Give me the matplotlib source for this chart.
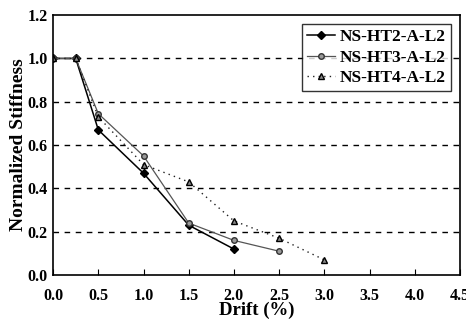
import matplotlib.pyplot as plt
import numpy as np

# drift values (%) and normalized stiffness for each specimen
drift_ht2 = [0.0, 0.25, 0.5, 1.0, 1.5, 2.0]
stiff_ht2 = [1.0, 1.0, 0.67, 0.47, 0.23, 0.12]

drift_ht3 = [0.0, 0.25, 0.5, 1.0, 1.5, 2.0, 2.5]
stiff_ht3 = [1.0, 1.0, 0.745, 0.55, 0.24, 0.16, 0.11]

drift_ht4 = [0.0, 0.25, 0.5, 1.0, 1.5, 2.0, 2.5, 3.0]
stiff_ht4 = [1.0, 1.0, 0.73, 0.51, 0.43, 0.25, 0.17, 0.07]

labels = ["NS-HT2-A-L2", "NS-HT3-A-L2", "NS-HT4-A-L2"]

plt.rcParams['font.family'] = ['Liberation Serif', 'DejaVu Serif']
plt.rcParams['font.weight'] = 'bold'

fig = plt.figure(figsize=(4.66, 3.29), dpi=100)
ax = fig.add_axes([0.114, 0.164, 0.873, 0.79])

ax.plot(drift_ht2, stiff_ht2, color="black", lw=1.1, marker="D", ms=4, label=labels[0])
ax.plot(drift_ht3, stiff_ht3, color="#555555", lw=0.9, marker="o", ms=4,
        mfc="#999999", mec="#333333", label=labels[1])
ax.plot(drift_ht4, stiff_ht4, color="#222222", lw=1.0, ls=(0, (1, 3)), marker="^", ms=4.5,
        mfc="#888888", mec="black", label=labels[2])

ax.set_xlim(0, 4.5)
ax.set_ylim(0, 1.2)
ax.set_xticks(np.arange(0, 4.6, 0.5))
ax.set_yticks(np.arange(0, 1.21, 0.2))
ax.set_xticklabels([f"{v:.1f}" for v in np.arange(0, 4.6, 0.5)], fontsize=11.5, fontweight="bold")
ax.set_yticklabels([f"{v:.1f}" for v in np.arange(0, 1.21, 0.2)], fontsize=11.5, fontweight="bold")
ax.tick_params(axis="x", direction="in", length=4, pad=9)
ax.tick_params(axis="y", length=0, pad=4)

for yv in [0.2, 0.4, 0.6, 0.8, 1.0]:
    ax.axhline(yv, color="black", lw=1.0, ls=(0, (4, 4)), zorder=0)

for s in ax.spines.values():
    s.set_linewidth(1.2)

ax.set_xlabel("Drift (%)", fontsize=13.5, fontweight="bold", labelpad=-1)
ax.set_ylabel("Normalized Stiffness", fontsize=14, fontweight="bold", labelpad=0)

leg = ax.legend(loc="upper right", fontsize=12.5, frameon=True, fancybox=False,
                edgecolor="black", handlelength=1.6, handletextpad=0.3,
                borderpad=0.3, labelspacing=0.25, borderaxespad=0.5)
leg.get_frame().set_linewidth(1.0)

fig.savefig("out.png", dpi=100)
